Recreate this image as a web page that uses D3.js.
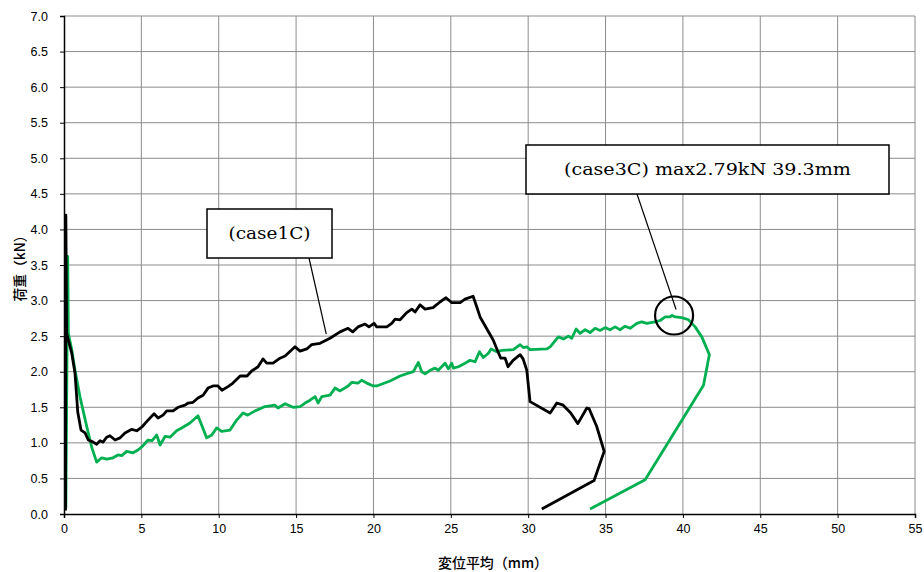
<!DOCTYPE html>
<html>
<head>
<meta charset="utf-8">
<script src="https://cdn.jsdelivr.net/npm/d3@7"></script>
<style>
  html, body { margin: 0; padding: 0; background: #fff; }
  svg { display: block; }
</style>
</head>
<body>
<svg id="chart" width="924" height="572"></svg>
<script>
// Load–displacement records: [average displacement (mm), load (kN)]
const case1C = [
  [0.10,0.05],[0.12,4.20],[0.17,2.54],[0.50,2.26],[0.71,1.98],[0.89,1.43],[1.10,1.18],[1.36,1.14],
  [1.57,1.04],[1.89,1.01],[2.11,0.98],[2.33,1.03],[2.52,1.01],[2.76,1.08],[2.97,1.10],[3.30,1.04],
  [3.62,1.07],[3.94,1.14],[4.38,1.19],[4.70,1.17],[5.02,1.22],[5.43,1.32],[5.82,1.41],[6.08,1.35],
  [6.40,1.39],[6.64,1.45],[7.05,1.45],[7.37,1.50],[7.82,1.53],[8.02,1.56],[8.34,1.57],[8.66,1.63],
  [8.99,1.67],[9.31,1.77],[9.63,1.80],[9.95,1.80],[10.21,1.74],[10.60,1.79],[10.92,1.84],[11.38,1.94],
  [11.83,1.94],[12.13,2.01],[12.54,2.07],[12.86,2.18],[13.10,2.12],[13.51,2.12],[13.96,2.19],[14.29,2.22],
  [14.93,2.35],[15.26,2.29],[15.69,2.32],[16.01,2.38],[16.55,2.40],[17.19,2.47],[17.84,2.56],[18.36,2.61],
  [18.66,2.56],[19.00,2.63],[19.46,2.67],[19.71,2.63],[20.04,2.68],[20.21,2.63],[20.86,2.63],[21.18,2.68],
  [21.40,2.74],[21.72,2.73],[22.15,2.83],[22.48,2.88],[22.69,2.84],[23.01,2.94],[23.34,2.88],[23.85,2.90],
  [24.30,2.98],[24.69,3.04],[25.06,2.97],[25.60,2.97],[25.92,3.02],[26.44,3.06],[26.68,2.91],[26.89,2.77],
  [27.73,2.45],[28.05,2.28],[28.23,2.19],[28.51,2.19],[28.70,2.07],[29.02,2.16],[29.48,2.24],[29.67,2.18],
  [29.91,2.02],[30.12,1.58],[31.42,1.42],[31.85,1.56],[32.26,1.53],[32.75,1.42],[33.21,1.27],[33.79,1.49],
  [33.94,1.48],[34.43,1.23],[34.91,0.88],[34.26,0.47],[30.88,0.07]
];

const case3C = [
  [0.12,0.08],[0.24,3.62],[0.28,2.54],[0.50,2.31],[0.71,2.02],[1.03,1.65],[1.47,1.23],[1.79,0.94],
  [2.11,0.73],[2.44,0.79],[2.76,0.77],[3.17,0.79],[3.49,0.83],[3.73,0.82],[4.05,0.88],[4.46,0.86],
  [4.78,0.90],[5.11,0.96],[5.43,1.04],[5.69,1.03],[5.99,1.11],[6.21,0.97],[6.53,1.09],[6.85,1.08],
  [7.28,1.17],[7.69,1.22],[8.14,1.28],[8.66,1.38],[9.22,1.07],[9.55,1.11],[9.87,1.21],[10.19,1.16],
  [10.73,1.18],[11.16,1.32],[11.57,1.42],[11.87,1.39],[12.35,1.45],[12.67,1.48],[12.99,1.51],[13.64,1.53],
  [13.83,1.49],[14.29,1.55],[14.80,1.50],[15.26,1.51],[15.58,1.56],[15.90,1.60],[16.23,1.65],[16.42,1.56],
  [16.66,1.65],[17.19,1.67],[17.52,1.77],[17.84,1.73],[18.36,1.80],[18.60,1.85],[19.00,1.84],[19.24,1.88],
  [19.57,1.84],[19.99,1.80],[20.21,1.80],[21.07,1.87],[21.72,1.94],[22.26,1.98],[22.58,2.00],[22.90,2.13],
  [23.12,2.00],[23.34,1.97],[23.66,2.02],[23.98,2.05],[24.19,2.02],[24.63,2.12],[24.84,2.04],[25.06,2.12],
  [25.16,2.05],[25.49,2.07],[25.92,2.12],[26.24,2.16],[26.57,2.14],[26.85,2.28],[27.10,2.20],[27.43,2.26],
  [27.60,2.32],[27.97,2.28],[28.29,2.30],[29.04,2.31],[29.48,2.38],[29.69,2.34],[29.91,2.35],[30.12,2.31],
  [31.20,2.32],[31.42,2.35],[31.95,2.49],[32.28,2.46],[32.60,2.50],[32.82,2.47],[33.10,2.60],[33.35,2.54],
  [33.68,2.59],[34.00,2.55],[34.32,2.61],[34.65,2.58],[34.97,2.62],[35.29,2.59],[35.62,2.63],[35.94,2.59],
  [36.26,2.64],[36.59,2.61],[37.02,2.68],[37.34,2.70],[37.67,2.68],[38.20,2.70],[38.53,2.72],[38.85,2.77],
  [39.17,2.77],[39.30,2.79],[39.50,2.77],[39.93,2.76],[40.36,2.73],[40.79,2.63],[41.22,2.49],[41.71,2.24],
  [41.33,1.81],[37.56,0.48],[34.00,0.07]
];

// Peak of case3C (displacement mm, load kN)
const case3Peak = [39.3, 2.79];

const xTicks = d3.range(0, 56, 5);
const yTicks = d3.range(0, 7.01, 0.5);

const svg = d3.select("#chart");
const margin = { left: 64, right: 9, top: 16, bottom: 58 };
const W = 924, H = 572;

const x = d3.scaleLinear().domain([0, 55]).range([margin.left, W - margin.right]);
const y = d3.scaleLinear().domain([0, 7]).range([H - margin.bottom, margin.top]);

// gridlines
svg.append("g")
  .selectAll("line.v")
  .data(xTicks.filter(d => d > 0))
  .join("line")
  .attr("x1", d => x(d)).attr("x2", d => x(d))
  .attr("y1", y(0)).attr("y2", y(7))
  .attr("stroke", "#8c8c8c").attr("stroke-width", 1);

svg.append("g")
  .selectAll("line.h")
  .data(yTicks.filter(d => d > 0))
  .join("line")
  .attr("x1", x(0)).attr("x2", x(55))
  .attr("y1", d => y(d)).attr("y2", d => y(d))
  .attr("stroke", "#8c8c8c").attr("stroke-width", 1);

// axes
const xAxis = d3.axisBottom(x).tickValues(xTicks).tickFormat(d3.format("d")).tickSizeOuter(0).tickSize(4).tickPadding(6);
const yAxis = d3.axisLeft(y).tickValues(yTicks).tickFormat(d3.format(".1f")).tickSizeOuter(0).tickSize(4).tickPadding(12);

const gx = svg.append("g").attr("transform", `translate(0,${y(0)})`).call(xAxis);
const gy = svg.append("g").attr("transform", `translate(${x(0)},0)`).call(yAxis);

[gx, gy].forEach(g => {
  g.select(".domain").attr("stroke", "#000").attr("stroke-width", 1.5);
  g.selectAll(".tick line").attr("stroke", "#000");
  g.selectAll(".tick text")
    .attr("fill", "#000")
    .style("font-family", "'Liberation Sans', Arial, sans-serif")
    .style("font-size", "12.5px");
});

// axis titles
svg.append("text")
  .attr("x", 493).attr("y", 568)
  .attr("text-anchor", "middle")
  .attr("textLength", 110).attr("lengthAdjust", "spacingAndGlyphs")
  .style("font-family", "'Noto Sans CJK JP', sans-serif")
  .style("font-size", "14px")
  .style("font-weight", 500)
  .text("変位平均（mm）");

svg.append("text")
  .attr("transform", `translate(25,${265}) rotate(-90)`)
  .attr("text-anchor", "middle")
  .attr("textLength", 73).attr("lengthAdjust", "spacingAndGlyphs")
  .style("font-family", "'Noto Sans CJK JP', sans-serif")
  .style("font-size", "14px")
  .style("font-weight", 500)
  .text("荷重（kN）");

// curves
const line = d3.line().x(d => x(d[0])).y(d => y(d[1]));

svg.append("path")
  .datum(case3C)
  .attr("d", line)
  .attr("fill", "none")
  .attr("stroke", "#00b050")
  .attr("stroke-width", 2.8)
  .attr("stroke-linejoin", "round");

svg.append("path")
  .datum(case1C)
  .attr("d", line)
  .attr("fill", "none")
  .attr("stroke", "#000")
  .attr("stroke-width", 2.8)
  .attr("stroke-linejoin", "round");

// callout for case1C
const box1 = { x: 207, y: 209, w: 125, h: 49 };
svg.append("line")
  .attr("x1", 309).attr("y1", box1.y + box1.h)
  .attr("x2", x(16.95)).attr("y2", y(2.53))
  .attr("stroke", "#000").attr("stroke-width", 1.2);
svg.append("rect")
  .attr("x", box1.x).attr("y", box1.y).attr("width", box1.w).attr("height", box1.h)
  .attr("fill", "#fff").attr("stroke", "#000").attr("stroke-width", 1.5);
svg.append("text")
  .attr("x", box1.x + box1.w / 2).attr("y", box1.y + 30)
  .attr("text-anchor", "middle")
  .attr("textLength", 82).attr("lengthAdjust", "spacingAndGlyphs")
  .style("font-family", "'DejaVu Serif', 'Liberation Serif', serif")
  .style("font-size", "17px")
  .text("(case1C)");

// callout for case3C peak
const box2 = { x: 526, y: 145, w: 363, h: 49 };
const cx = x(case3Peak[0]), cy = y(case3Peak[1]), r = 19;
svg.append("line")
  .attr("x1", 637).attr("y1", box2.y + box2.h)
  .attr("x2", cx + 4).attr("y2", cy - 6)
  .attr("stroke", "#000").attr("stroke-width", 1.2);
svg.append("circle")
  .attr("cx", cx + 2).attr("cy", cy).attr("r", r)
  .attr("fill", "none").attr("stroke", "#000").attr("stroke-width", 2.2);
svg.append("rect")
  .attr("x", box2.x).attr("y", box2.y).attr("width", box2.w).attr("height", box2.h)
  .attr("fill", "#fff").attr("stroke", "#000").attr("stroke-width", 1.5);
svg.append("text")
  .attr("x", box2.x + box2.w / 2).attr("y", box2.y + 30)
  .attr("text-anchor", "middle")
  .attr("textLength", 287).attr("lengthAdjust", "spacingAndGlyphs")
  .style("font-family", "'DejaVu Serif', 'Liberation Serif', serif")
  .style("font-size", "17px")
  .text(`(case3C) max${case3Peak[1].toFixed(2)}kN ${case3Peak[0].toFixed(1)}mm`);
</script>
</body>
</html>
